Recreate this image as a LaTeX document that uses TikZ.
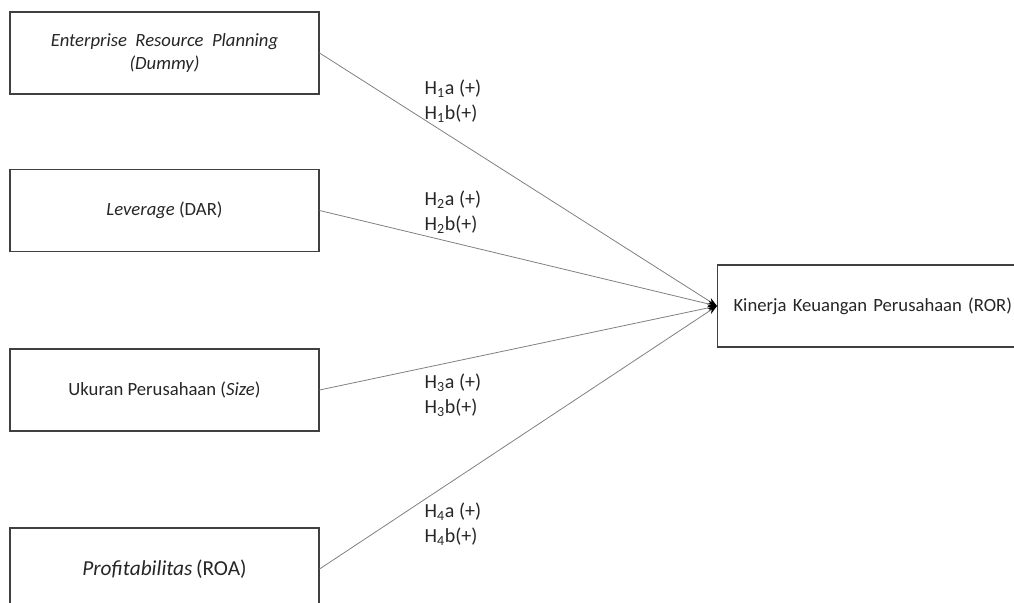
\documentclass[tikz,border=0pt]{standalone}
\usepackage{fontspec}
\setmainfont{Carlito}
\usepackage{tikz}
\usetikzlibrary{arrows.meta, positioning}
\definecolor{cline}{HTML}{808080}
\definecolor{cbox}{HTML}{404040}
\definecolor{ctext}{HTML}{262626}
\tikzset{
  varbox/.style={draw=cbox, line width=0.8pt, minimum width=231.75pt, minimum height=61.5pt,
                 text=ctext, inner sep=4pt},
  hlab/.style={anchor=west, align=left, text=ctext,
               font=\fontsize{15}{19}\selectfont},
  link/.style={-{Stealth[length=7pt, width=5pt, black]}, cline, line width=0.6pt},
}
\begin{document}
\begin{tikzpicture}[x=0.75pt, y=-0.75pt, every node/.style={font=\fontsize{14}{17}\selectfont}]
  \clip (0,0) rectangle (1014,603);
  % dependent variable
  \node[varbox, minimum width=0pt, text width=215pt, align=left, inner xsep=12pt, anchor=west] (kin) at (717,306)
    {Kinerja Keuangan Perusahaan (ROR)};
  % independent variables
  \node[varbox, align=center] (erp) at (164.5,53)
    {\itshape Enterprise\ \ Resource\ \ Planning\\\itshape (Dummy)};
  \node[varbox] (lev) at (164.5,210.5) {\textit{Leverage} (DAR)};
  \node[varbox] (size) at (164.5,390) {Ukuran Perusahaan (\textit{Size})};
  \node[varbox, font=\fontsize{16}{19}\selectfont] (prof) at (164.5,569) {\textit{Profitabilitas}\,(ROA)};
  \foreach \src in {erp,lev,size,prof}
    \draw[link] (\src.east) -- (kin.west);
  % hypotheses
  \node[hlab] (h1) at (420,101) {H\textsubscript{1}a (+)\\H\textsubscript{1}b(+)};
  \node[hlab] (h2) at (420,212) {H\textsubscript{2}a (+)\\H\textsubscript{2}b(+)};
  \node[hlab] (h3) at (420,395) {H\textsubscript{3}a (+)\\H\textsubscript{3}b(+)};
  \node[hlab] (h4) at (420,524) {H\textsubscript{4}a (+)\\H\textsubscript{4}b(+)};
\end{tikzpicture}
\end{document}
